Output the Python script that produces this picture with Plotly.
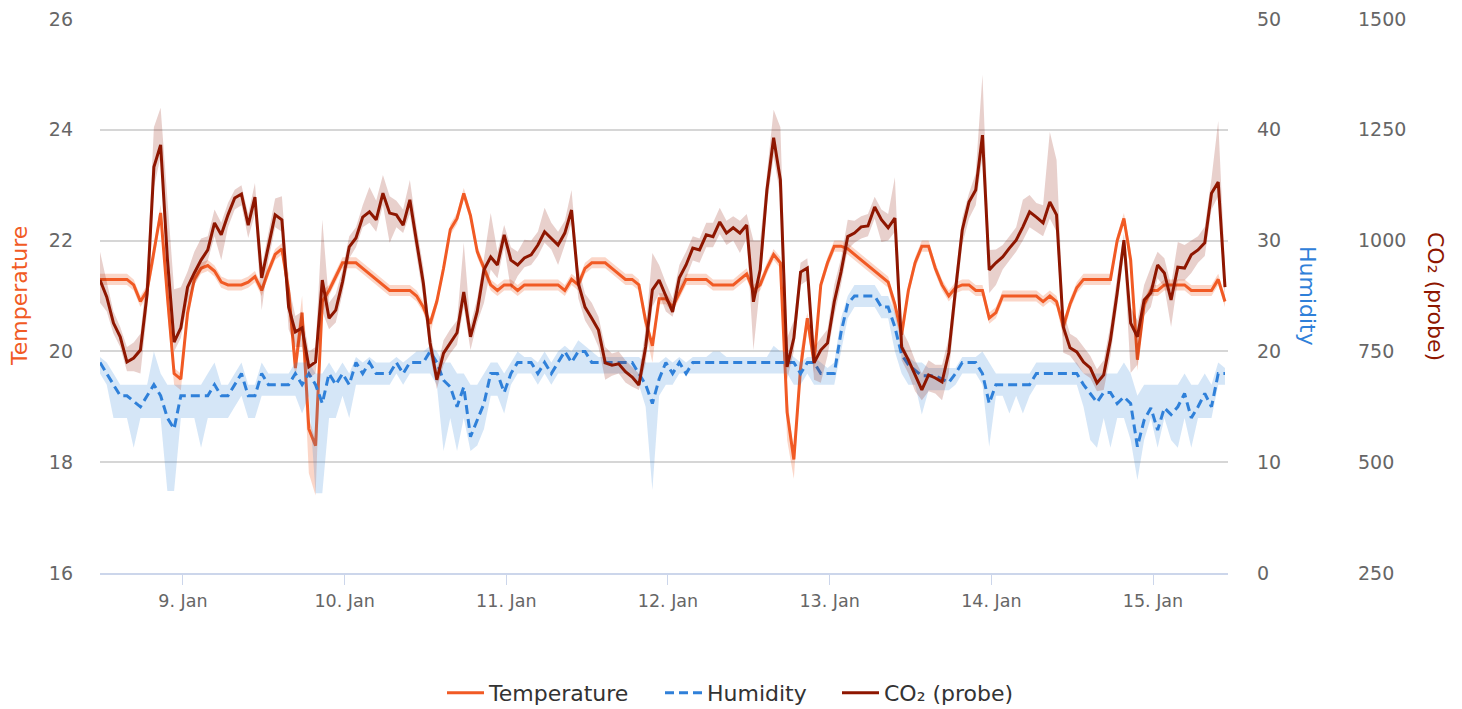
import pandas as pd
import plotly.graph_objects as go

# ---------------- data (hourly readings) ----------------
start_time = "2017-01-08 11:41"
axis_end = "2017-01-15 11:08"

temperature = [
    21.3, 21.3, 21.3, 21.3, 21.3, 21.2, 20.9, 21.1, 21.8, 22.5,
    21.0, 19.6, 19.5, 20.7, 21.3, 21.5, 21.55, 21.45, 21.25, 21.2,
    21.2, 21.2, 21.25, 21.35, 21.1, 21.45, 21.75, 21.85, 21.1, 19.7,
    20.7, 18.6, 18.3, 20.9, 21.1, 21.35, 21.6, 21.6, 21.6, 21.5,
    21.4, 21.3, 21.2, 21.1, 21.1, 21.1, 21.1, 21.0, 20.8, 20.5,
    20.9, 21.5, 22.2, 22.4, 22.85, 22.45, 21.8, 21.5, 21.2, 21.1,
    21.2, 21.2, 21.1, 21.2, 21.2, 21.2, 21.2, 21.2, 21.2, 21.1,
    21.3, 21.2, 21.5, 21.6, 21.6, 21.6, 21.5, 21.4, 21.3, 21.3,
    21.2, 20.55, 20.1, 20.95, 20.95, 20.8, 21.05, 21.3, 21.3, 21.3,
    21.3, 21.2, 21.2, 21.2, 21.2, 21.3, 21.4, 21.1, 21.2, 21.5,
    21.75, 21.6, 18.9, 18.05, 19.7, 20.6, 19.8, 21.2, 21.6, 21.9,
    21.9, 21.85, 21.75, 21.65, 21.55, 21.45, 21.35, 21.25, 20.85, 20.3,
    21.1, 21.6, 21.9, 21.9, 21.5, 21.2, 21.0, 21.15, 21.2, 21.2,
    21.1, 21.1, 20.6, 20.7, 21.0, 21.0, 21.0, 21.0, 21.0, 21.0,
    20.9, 21.0, 20.9, 20.45, 20.85, 21.15, 21.3, 21.3, 21.3, 21.3,
    21.3, 22.0, 22.4, 21.65, 19.85, 20.85, 21.1, 21.1, 21.2, 21.2,
    21.2, 21.2, 21.1, 21.1, 21.1, 21.1, 21.3, 20.9,
]
# spread of the temperature range band below / above the line
temperature_down = [
    0.1, 0.1, 0.1, 0.1, 0.1, 0.1, 0.1, 0.1, 0.2, 0.1,
    0.3, 0.2, 0.2, 0.2, 0.1, 0.1, 0.1, 0.1, 0.1, 0.1,
    0.1, 0.1, 0.1, 0.1, 0.1, 0.1, 0.1, 0.1, 0.3, 0.2,
    0.3, 0.8, 0.9, 0.2, 0.1, 0.1, 0.1, 0.1, 0.1, 0.1,
    0.1, 0.1, 0.1, 0.1, 0.1, 0.1, 0.1, 0.1, 0.1, 0.2,
    0.1, 0.1, 0.1, 0.1, 0.1, 0.1, 0.1, 0.1, 0.1, 0.1,
    0.1, 0.1, 0.1, 0.1, 0.1, 0.1, 0.1, 0.1, 0.1, 0.1,
    0.1, 0.1, 0.1, 0.1, 0.1, 0.1, 0.1, 0.1, 0.1, 0.1,
    0.1, 0.2, 0.3, 0.1, 0.1, 0.1, 0.1, 0.1, 0.1, 0.1,
    0.1, 0.1, 0.1, 0.1, 0.1, 0.1, 0.1, 0.1, 0.1, 0.1,
    0.1, 0.1, 0.5, 0.35, 0.2, 0.2, 0.2, 0.1, 0.1, 0.1,
    0.1, 0.1, 0.1, 0.1, 0.1, 0.1, 0.1, 0.1, 0.2, 0.2,
    0.1, 0.1, 0.1, 0.1, 0.1, 0.1, 0.1, 0.1, 0.1, 0.1,
    0.1, 0.1, 0.1, 0.1, 0.1, 0.1, 0.1, 0.1, 0.1, 0.1,
    0.1, 0.1, 0.1, 0.2, 0.1, 0.1, 0.1, 0.1, 0.1, 0.1,
    0.1, 0.1, 0.1, 0.2, 0.2, 0.1, 0.1, 0.1, 0.1, 0.1,
    0.1, 0.1, 0.1, 0.1, 0.1, 0.1, 0.1, 0.1,
]
temperature_up = [
    0.1, 0.1, 0.1, 0.1, 0.1, 0.1, 0.1, 0.1, 0.1, 0.15,
    0.3, 0.1, 0.1, 0.1, 0.1, 0.1, 0.1, 0.1, 0.1, 0.1,
    0.1, 0.1, 0.1, 0.1, 0.1, 0.1, 0.1, 0.1, 0.3, 0.3,
    0.3, 0.2, 0.1, 0.2, 0.1, 0.1, 0.1, 0.1, 0.1, 0.1,
    0.1, 0.1, 0.1, 0.1, 0.1, 0.1, 0.1, 0.1, 0.1, 0.1,
    0.1, 0.1, 0.1, 0.1, 0.1, 0.1, 0.1, 0.1, 0.1, 0.1,
    0.1, 0.1, 0.1, 0.1, 0.1, 0.1, 0.1, 0.1, 0.1, 0.1,
    0.1, 0.1, 0.1, 0.1, 0.1, 0.1, 0.1, 0.1, 0.1, 0.1,
    0.1, 0.1, 0.1, 0.1, 0.1, 0.1, 0.1, 0.1, 0.1, 0.1,
    0.1, 0.1, 0.1, 0.1, 0.1, 0.1, 0.1, 0.1, 0.1, 0.1,
    0.1, 0.1, 0.3, 0.1, 0.3, 0.1, 0.1, 0.1, 0.1, 0.1,
    0.1, 0.1, 0.1, 0.1, 0.1, 0.1, 0.1, 0.1, 0.1, 0.1,
    0.1, 0.1, 0.1, 0.1, 0.1, 0.1, 0.1, 0.1, 0.1, 0.1,
    0.1, 0.1, 0.1, 0.1, 0.1, 0.1, 0.1, 0.1, 0.1, 0.1,
    0.1, 0.1, 0.1, 0.1, 0.1, 0.1, 0.1, 0.1, 0.1, 0.1,
    0.1, 0.1, 0.1, 0.2, 0.1, 0.1, 0.1, 0.1, 0.1, 0.1,
    0.1, 0.1, 0.1, 0.1, 0.1, 0.1, 0.1, 0.1,
]

humidity = [
    19, 18, 17, 16, 16, 15.5, 15, 16, 17, 16,
    14, 13, 16, 16, 16, 16, 16, 17, 16, 16,
    17, 18, 16, 16, 18, 17, 17, 17, 17, 18,
    17, 18, 17, 15.3, 18, 17, 18, 17, 19, 18,
    19, 18, 18, 18, 19, 18, 19, 19, 19, 20,
    19, 17.4, 16.8, 15, 16.8, 12.3, 13.8, 15.3, 18, 18,
    16.3, 18, 19, 19, 19, 18, 19, 18, 19, 20,
    19, 20, 20, 19, 19, 19, 19, 19, 19, 19,
    18, 17, 15.3, 17.5, 19, 18, 19, 18, 19, 19,
    19, 19, 19, 19, 19, 19, 19, 19, 19, 19,
    19, 19, 19, 19, 18, 19, 19, 18, 18, 18,
    21.7, 24.3, 25, 25, 25, 25, 24, 24, 22.2, 19.7,
    18.8, 18.3, 17.8, 17.8, 17.8, 17.5, 17.2, 18, 19, 19,
    19, 18, 15.3, 17, 17, 17, 17, 17, 17, 18,
    18, 18, 18, 18, 18, 18, 17, 16.2, 15.4, 16.3,
    16.3, 15.3, 15.9, 15.3, 11.4, 13.8, 14.9, 12.9, 14.9, 14.3,
    15, 16.2, 14, 15, 16.2, 15, 18, 18,
]
humidity_low = [
    18, 17, 14, 14, 14, 11.3, 14, 14, 14, 14,
    7.4, 7.4, 14, 14, 14, 11.3, 14, 14, 14, 14,
    15, 16, 14, 14, 16, 16, 16, 16, 16, 16,
    14.4, 16, 7.2, 7.2, 14, 14, 16, 14, 17, 17,
    17, 17, 17, 17, 18, 17, 18, 18, 18, 18,
    17, 11, 14, 11, 14, 11, 11.5, 13, 16, 16,
    14.4, 17, 18, 18, 18, 17, 18, 17, 18, 18,
    18, 18, 18, 18, 18, 18, 18, 18, 18, 18,
    17, 15, 7.5, 16, 17, 17, 18, 18, 18, 18,
    18, 18, 18, 18, 18, 18, 18, 18, 18, 18,
    18, 18, 18, 17, 17, 18, 17, 17, 17, 17,
    20, 23, 24, 24, 24, 24, 23, 23, 20, 18,
    17, 17, 14.3, 16.5, 16.5, 16.5, 16.5, 17, 18, 18,
    18, 17, 11.4, 16, 16, 14.4, 16, 14.4, 16, 17,
    17, 17, 17, 17, 17, 17, 15, 12, 11.3, 14,
    11.3, 14, 14, 12, 8.4, 12, 14, 11.3, 14, 12,
    11.3, 14, 11.3, 14, 14, 14, 17, 17,
]
humidity_high = [
    19.5, 19, 18, 17, 17, 17, 17, 17, 20, 18,
    17, 17, 17, 17, 17, 17, 18, 19, 17, 17,
    18, 19, 17, 17, 19, 18, 18, 18, 18, 19,
    19, 19, 18, 18, 19, 18, 19, 18, 19.5, 19,
    19.5, 19, 19, 19, 19.5, 19, 19.5, 20, 20, 20.5,
    20, 19, 19, 18, 18, 17, 17, 18, 19, 19,
    18, 19, 20, 19.5, 19.5, 19, 20, 19, 20, 20.5,
    20, 21, 20.5, 20, 19.5, 19.5, 19.5, 19.5, 19.5, 19.5,
    19.5, 19, 19, 19, 19.5, 19, 19.5, 19, 19.5, 19.5,
    19.5, 20, 20, 19.5, 19.5, 19.5, 19.5, 19.5, 19.5, 19.5,
    20.5, 20, 20, 19.5, 19, 19.5, 19.5, 19, 18.5, 19,
    23, 25, 26, 26, 26, 26, 25, 25, 23.5, 21,
    19.5, 19, 19, 18.5, 18.5, 18.5, 18.5, 18.5, 19.5, 19.5,
    19.5, 20, 19, 18, 18, 18, 18, 18, 18, 19,
    19, 19, 19, 19, 19, 19, 18, 18, 18, 18,
    18, 18, 19, 18, 16, 17, 17, 17, 17, 17,
    17, 18, 17, 17, 18, 17, 19, 18.5,
]

co2 = [
    911, 873, 814, 783, 726, 735, 753, 880, 1166, 1216,
    960, 771, 803, 895, 927, 956, 979, 1040, 1013, 1058,
    1096, 1105, 1035, 1098, 916, 986, 1058, 1047, 850, 794,
    803, 715, 726, 911, 825, 843, 907, 986, 1006, 1053,
    1065, 1047, 1107, 1062, 1058, 1035, 1092, 997, 904, 769,
    686, 746, 769, 792, 884, 783, 840, 934, 963, 945,
    1013, 956, 945, 961, 968, 990, 1020, 1006, 990, 1017,
    1069, 904, 850, 825, 798, 724, 719, 722, 704, 692,
    674, 760, 889, 911, 873, 839, 916, 945, 983, 979,
    1013, 1009, 1042, 1017, 1029, 1017, 1035, 862, 934, 1114,
    1232, 1137, 715, 780, 929, 938, 724, 753, 769, 862,
    929, 1009, 1017, 1031, 1033, 1076, 1047, 1029, 1051, 760,
    731, 697, 663, 697, 690, 681, 747, 889, 1024, 1087,
    1114, 1238, 934, 950, 963, 983, 1001, 1031, 1065, 1053,
    1040, 1087, 1058, 805, 758, 749, 726, 713, 679, 697,
    776, 882, 1001, 814, 783, 866, 882, 945, 927, 866,
    940, 938, 968, 979, 995, 1107, 1132, 895,
]
co2_low = [
    860, 840, 790, 760, 705, 705, 700, 840, 1120, 1190,
    900, 750, 780, 860, 900, 930, 955, 1010, 956, 1030,
    1070, 1080, 1006, 1060, 843, 955, 1030, 1020, 800, 760,
    760, 690, 700, 840, 800, 815, 880, 960, 985, 1030,
    1040, 1020, 1080, 995, 1030, 1017, 1060, 960, 870, 740,
    665, 720, 745, 765, 850, 753, 815, 859, 935, 915,
    985, 889, 920, 940, 945, 965, 995, 980, 945, 990,
    1040, 870, 820, 795, 760, 686, 695, 700, 680, 670,
    663, 724, 850, 880, 840, 828, 885, 915, 955, 950,
    985, 985, 1015, 990, 1000, 972, 1005, 753, 900, 1080,
    1189, 1100, 686, 750, 900, 910, 686, 679, 740, 830,
    900, 980, 995, 1005, 1010, 1050, 997, 1000, 1020, 730,
    700, 660, 640, 660, 655, 640, 700, 850, 990, 1050,
    1080, 1190, 882, 900, 935, 955, 975, 1000, 1030, 1020,
    1010, 1050, 1020, 747, 740, 720, 700, 690, 660, 663,
    740, 850, 970, 701, 720, 830, 850, 915, 895, 805,
    910, 910, 927, 950, 965, 1070, 1100, 866,
]
co2_high = [
    975, 905, 840, 805, 760, 770, 790, 930, 1256, 1300,
    1100, 890, 895, 930, 975, 1005, 1010, 1070, 1040, 1085,
    1115, 1125, 1060, 1130, 940, 1020, 1095, 1100, 900, 830,
    840, 750, 760, 1047, 860, 880, 935, 1010, 1030, 1080,
    1121, 1090, 1148, 1100, 1090, 1070, 1137, 1030, 940, 800,
    710, 775, 800, 820, 995, 810, 870, 960, 1062, 975,
    1035, 985, 975, 1002, 1000, 1020, 1074, 1040, 1020, 1045,
    1114, 940, 880, 860, 828, 760, 745, 750, 730, 715,
    700, 800, 972, 945, 905, 870, 945, 975, 1010, 1005,
    1040, 1040, 1074, 1045, 1055, 1045, 1060, 1000, 1000, 1150,
    1295, 1256, 780, 820, 950, 960, 760, 780, 800, 900,
    960, 1047, 1045, 1055, 1060, 1099, 1070, 1060, 1143, 800,
    770, 730, 700, 730, 720, 720, 780, 920, 1051, 1107,
    1152, 1374, 979, 980, 990, 1010, 1030, 1092, 1103, 1085,
    1080, 1245, 1182, 840, 790, 780, 760, 740, 710, 730,
    810, 920, 1017, 850, 820, 900, 940, 975, 960, 900,
    997, 990, 1000, 1010, 1031, 1140, 1270, 940,
]

series_names = ["Temperature", "Humidity", "CO₂ (probe)"]
temp_ticks = [16, 18, 20, 22, 24, 26]
hum_ticks = [0, 10, 20, 30, 40, 50]
co2_ticks = [250, 500, 750, 1000, 1250, 1500]

# ---------------- styling ----------------
FONT = "DejaVu Sans"
TEMP_C = "#F15A24"
HUM_C = "#2F80D9"
CO2_C = "#8E1600"
TEMP_BAND = "rgba(241,90,36,0.25)"
HUM_BAND = "rgba(47,128,217,0.2)"
CO2_BAND = "rgba(142,22,0,0.2)"
LABEL_C = "#666666"

times = pd.date_range(start_time, periods=len(temperature), freq="h")
temp_low = [v - d for v, d in zip(temperature, temperature_down)]
temp_high = [v + u for v, u in zip(temperature, temperature_up)]

fig = go.Figure()


def add_band(lo, hi, color, yaxis):
    fig.add_trace(go.Scatter(x=times, y=lo, mode="lines", line=dict(width=0),
                             yaxis=yaxis, showlegend=False, hoverinfo="skip"))
    fig.add_trace(go.Scatter(x=times, y=hi, mode="lines", line=dict(width=0),
                             fill="tonexty", fillcolor=color, yaxis=yaxis,
                             showlegend=False, hoverinfo="skip"))


add_band(temp_low, temp_high, TEMP_BAND, "y")
fig.add_trace(go.Scatter(x=times, y=temperature, mode="lines", name=series_names[0],
                         line=dict(color=TEMP_C, width=3), yaxis="y", legend="legend"))
add_band(humidity_low, humidity_high, HUM_BAND, "y2")
fig.add_trace(go.Scatter(x=times, y=humidity, mode="lines", name=series_names[1],
                         line=dict(color=HUM_C, width=3, dash="9px,5px"), yaxis="y2",
                         legend="legend2"))
add_band(co2_low, co2_high, CO2_BAND, "y3")
fig.add_trace(go.Scatter(x=times, y=co2, mode="lines", name=series_names[2],
                         line=dict(color=CO2_C, width=3), yaxis="y3", legend="legend3"))

W, H = 1462, 709
ML, MR, MT, MB = 100, 60, 19, 136
paper_w = W - ML - MR
paper_h = H - MT - MB
plot_right = 1228
plot_bottom = H - MB


def px_x(p):
    return (p - ML) / paper_w


legend_y = -(693 - plot_bottom) / paper_h


def legend_at(symbol_left):
    return dict(
        orientation="h", x=px_x(symbol_left - 5), xanchor="left",
        y=legend_y, yanchor="middle", itemwidth=37,
        font=dict(size=22, color="#333333", family=FONT),
        bgcolor="rgba(0,0,0,0)",
    )


fig.update_layout(
    width=W, height=H,
    margin=dict(l=ML, r=MR, t=MT, b=MB, autoexpand=False),
    paper_bgcolor="white", plot_bgcolor="white",
    font=dict(family=FONT, color=LABEL_C),
    hovermode=False,
    xaxis=dict(
        domain=[0, px_x(plot_right)], type="date",
        range=[times[0], axis_end],
        tick0="2017-01-09", dtick=86400000, tickformat="%-d. %b",
        ticks="outside", ticklen=10, tickcolor="#ccd6eb", tickwidth=1,
        showline=True, linecolor="#ccd6eb", linewidth=1.5,
        showgrid=False, zeroline=False,
        tickfont=dict(size=17.5, color=LABEL_C, family=FONT),
        ticklabelstandoff=1,
    ),
    yaxis=dict(
        range=[16, 26], tickvals=temp_ticks, showgrid=True,
        gridcolor="#d6d6d6", gridwidth=1.5, zeroline=False, ticks="",
        tickfont=dict(size=19, color=LABEL_C, family=FONT),
        ticklabelstandoff=26,
    ),
    yaxis2=dict(
        range=[0, 50], tickvals=hum_ticks, overlaying="y", anchor="free",
        position=px_x(1256), side="right", showgrid=False, zeroline=False,
        ticks="", tickfont=dict(size=19, color=LABEL_C, family=FONT),
    ),
    yaxis3=dict(
        range=[250, 1500], tickvals=co2_ticks, overlaying="y", anchor="free",
        position=px_x(1357), side="right", showgrid=False, zeroline=False,
        ticks="", tickfont=dict(size=19, color=LABEL_C, family=FONT),
    ),
    legend=legend_at(447),
    legend2=legend_at(665),
    legend3=legend_at(842),
    annotations=[
        dict(text=series_names[0], x=px_x(19), y=0.5, xref="paper", yref="paper",
             textangle=-90, showarrow=False, xanchor="center", yanchor="middle",
             font=dict(size=22, color=TEMP_C, family=FONT)),
        dict(text=series_names[1], x=px_x(1308), y=0.5, xref="paper", yref="paper",
             textangle=90, showarrow=False, xanchor="center", yanchor="middle",
             font=dict(size=22, color=HUM_C, family=FONT)),
        dict(text=series_names[2], x=px_x(1436), y=0.5, xref="paper", yref="paper",
             textangle=90, showarrow=False, xanchor="center", yanchor="middle",
             font=dict(size=22, color=CO2_C, family=FONT)),
    ],
)

fig.write_html("out.html", config={"displayModeBar": False},
               post_script="document.body.style.margin='0px';")
